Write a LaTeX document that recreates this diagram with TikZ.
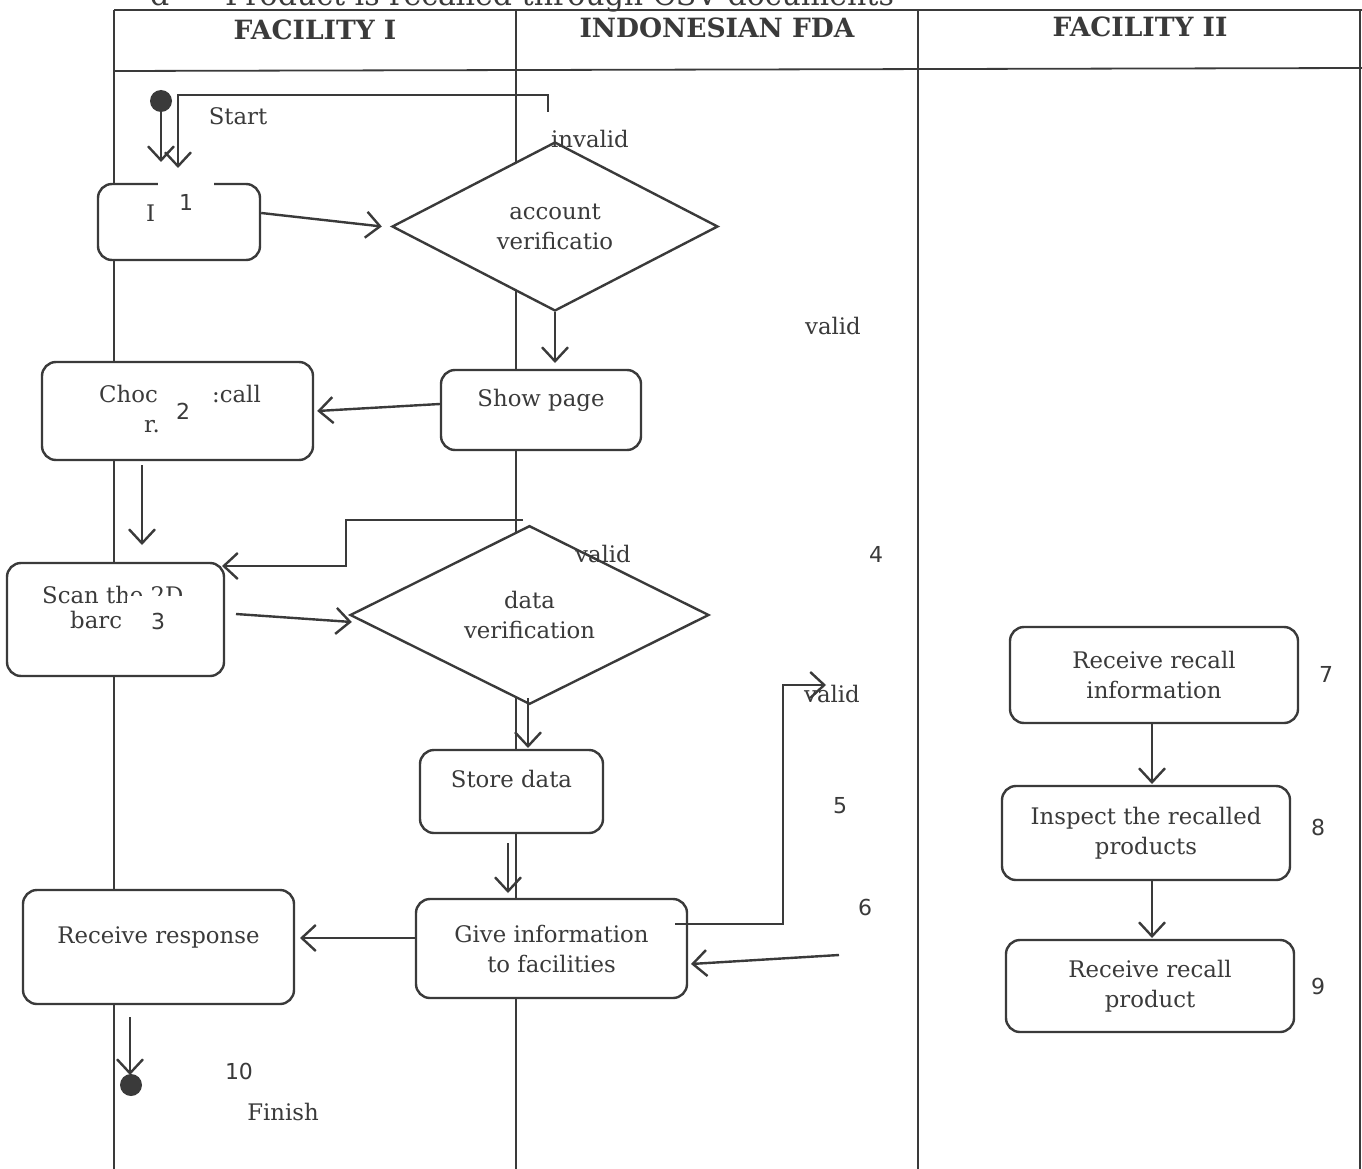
\documentclass[tikz,border=0pt]{standalone}
\usepackage{fontspec}
\setmainfont{DejaVu Serif}
\setsansfont{DejaVu Sans}
\usetikzlibrary{arrows.meta,shapes.geometric}

\definecolor{ink}{HTML}{3A3A3A}

\tikzset{
  box/.style={draw=ink,line width=2.4pt,fill=white,rounded corners=14pt,
    inner sep=0pt,align=center,text=ink,font=\fontsize{22.8}{30}\selectfont},
  hi/.style={text height=16pt,text depth=24pt},
  decision/.style={draw=ink,line width=2.4pt,fill=white,diamond,inner sep=0pt,
    align=center,text=ink,font=\fontsize{22.8}{30}\selectfont},
  txt/.style={text=ink,inner sep=0pt,font=\fontsize{22.8}{30}\selectfont},
  num/.style={text=ink,inner sep=0pt,font=\sffamily\fontsize{22}{24}\selectfont},
  cover/.style={num,fill=white},
  head/.style={text=ink,inner sep=0pt,font=\bfseries\fontsize{26.5}{30}\selectfont},
  lane/.style={draw=ink,line width=1.8pt},
  arr/.style={draw=ink,line width=2.4pt,-{Straight Barb[length=14pt,width=26pt]}},
  dot/.style={circle,fill=ink,inner sep=0pt,minimum size=22pt}
}

\begin{document}
\begin{tikzpicture}[x=1pt,y=-1pt]
  \useasboundingbox[fill=white] (0,0) rectangle (1362,1169);

  % heading of the page, cut at the top
  \node[txt,anchor=base west,font=\fontsize{30}{32}\selectfont] (hd) at (150,6) {d};
  \node[txt,anchor=base west,font=\fontsize{30}{32}\selectfont] (title) at (225,6) {Product is recalled through CSV documents};

  % swim lanes
  \draw[lane] (114,10) -- (1362,10);
  \draw[lane] (114,71) -- (1362,68);
  \draw[lane] (114,10) -- (114,1169);
  \draw[lane] (516,10) -- (516,1169);
  \draw[lane] (918,10) -- (918,1169);
  \draw[lane] (1360,10) -- (1360,1169);
  \node[head] (fac1) at (315,30) {FACILITY I};
  \node[head] (fda) at (717,28) {INDONESIAN FDA};
  \node[head] (fac2) at (1140,27) {FACILITY II};

  % activities
  \node[dot] (start) at (161,101) {};
  \node[box,minimum width=162pt,minimum height=76pt] (login) at (179,222) {};
  \node[decision,minimum width=326pt,minimum height=169pt] (acc) at (555,226.5) {account\\verificatio};
  \node[box,hi,minimum width=200pt,minimum height=80pt] (show) at (541,410) {Show page};
  \node[box,minimum width=271pt,minimum height=98pt] (choose) at (177.5,411) {};
  \node[box,minimum width=217pt,minimum height=113pt] (scan) at (115.5,619.5) {};
  \node[decision,minimum width=359pt,minimum height=166pt] (data) at (529.5,615) {data\\verification};
  \node[box,hi,minimum width=183pt,minimum height=83pt] (store) at (511.5,791.5) {Store data};
  \node[box,minimum width=271pt,minimum height=99pt] (give) at (551.5,948.5) {Give information\\to facilities};
  \node[box,hi,minimum width=271pt,minimum height=114pt] (resp) at (158.5,947) {Receive response};
  \node[dot] (finish) at (131,1085) {};
  \node[box,minimum width=288pt,minimum height=96pt] (recinfo) at (1154,675) {Receive recall\\information};
  \node[box,minimum width=288pt,minimum height=94pt] (inspect) at (1146,833) {Inspect the recalled\\products};
  \node[box,minimum width=288pt,minimum height=92pt] (recprod) at (1150,986) {Receive recall\\product};

  % what is left of the covered texts
  \node[txt,anchor=base west] (lgI) at (146,222) {I};
  \node[cover,minimum width=56pt,minimum height=52pt] (n1) at (186,202) {1};
  \node[txt,anchor=base west] (chA) at (99,402) {Choc};
  \node[txt,anchor=base west] (chB) at (212,402) {:call};
  \node[txt,anchor=base west] (chC) at (144,432) {r.};
  \node[cover,minimum width=50pt,minimum height=60pt] (n2) at (183,411) {2};
  \node[txt,anchor=base west] (scA) at (42,603) {Scan the 2D};
  \node[txt,anchor=base west] (scB) at (70,628) {barc};
  \node[cover,minimum width=62pt,minimum height=50pt] (n3) at (158,621) {3};

  % free ends of the connectors
  \coordinate (inv) at (548,112);
  \coordinate (inv2) at (523,520);
  \coordinate (v6) at (839,955);

  % connectors
  \draw[arr] (start) -- (161,162);
  \draw[arr] (inv) -- (548,95) -- (178,95) -- (178,168);
  \draw[arr] ([yshift=9pt]login.east) -- ([xshift=-9pt]acc.west);
  \draw[arr] (acc.south) -- (555,363);
  \draw[arr] ([yshift=6pt]show.west) -- ([xshift=3pt]choose.east);
  \draw[arr] (142,465) -- (142,545);
  \draw[arr] (inv2) -- (346,520) -- (346,566) -- (222,566);
  \draw[arr] (236,614) -- ([xshift=3pt,yshift=-7pt]data.west);
  \draw[arr] (528,698) -- (528,748);
  \draw[arr] (508,843) -- (508,893);
  \draw[arr] (675,924) -- (783,924) -- (783,685) -- (826,685);
  \draw[arr] (v6) -- (691,964);
  \draw[arr] (416,938) -- (300,938);
  \draw[arr] (130,1017) -- (130,1075);
  \draw[arr] (1152,723) -- (1152,784);
  \draw[arr] (1152,880) -- (1152,938);

  % labels
  \node[txt] (lstart) at (238,116) {Start};
  \node[txt] (linv) at (590,139) {invalid};
  \node[txt] (lval1) at (833,326) {valid};
  \node[txt] (lval2) at (603,554) {valid};
  \node[txt] (lval3) at (832,694) {valid};
  \node[txt] (lfin) at (283,1112) {Finish};
  \node[num] (n4) at (876,554) {4};
  \node[num] (n5) at (840,806) {5};
  \node[num] (n6) at (865,907) {6};
  \node[num] (n7) at (1326,674) {7};
  \node[num] (n8) at (1318,827) {8};
  \node[num] (n9) at (1318,986) {9};
  \node[num] (n10) at (239,1071) {10};
\end{tikzpicture}
\end{document}
